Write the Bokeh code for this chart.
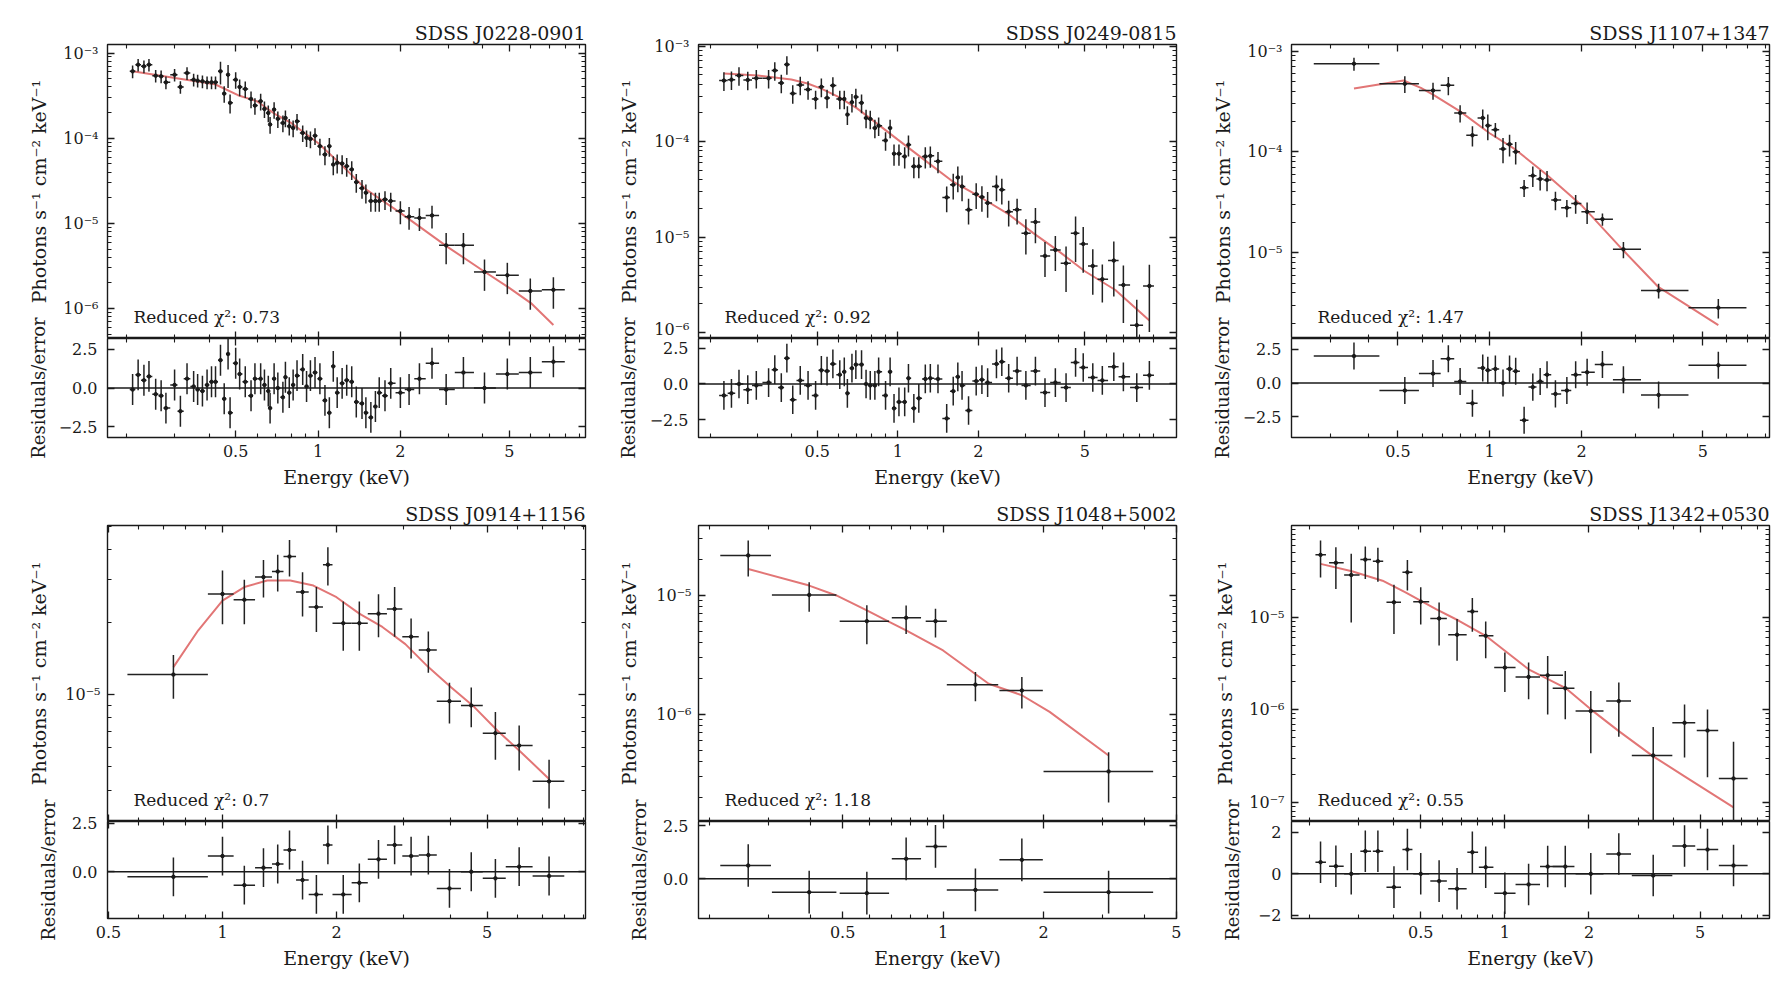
import math
from bokeh.plotting import figure
from bokeh.models import (LogAxis, LinearAxis, FixedTicker, CustomJSTickFormatter,
                          Range1d, Label, Span, Spacer)
from bokeh.layouts import row, column
from bokeh.embed import file_html
from bokeh.resources import INLINE

FONT = "DejaVu Serif"
INK = "#1a1a1a"
BAR = "#222222"
MODEL_COLOR = "#e27676"

TITLES = ["SDSS J0228-0901", "SDSS J0249-0815", "SDSS J1107+1347",
          "SDSS J0914+1156", "SDSS J1048+5002", "SDSS J1342+0530"]
CHI2 = ["0.73", "0.92", "1.47", "0.7", "1.18", "0.55"]
Y_LABEL = "Photons s\u207b\u00b9 cm\u207b\u00b2 keV\u207b\u00b9"
R_LABEL = "Residuals/error"
X_LABEL = "Energy (keV)"

X_TICKS = [0.5, 1, 2, 5]
X_MINOR = [0.2, 0.3, 0.4, 0.6, 0.7, 0.8, 0.9, 3, 4, 6, 7, 8, 9]

# ---------------- SDSS J0228-0901 ----------------
E_0228 = [0.210, 0.220, 0.231, 0.241, 0.255, 0.267, 0.278, 0.299, 0.314, 0.332,
          0.351, 0.363, 0.378, 0.393, 0.408, 0.422, 0.440, 0.454, 0.469, 0.477,
          0.500, 0.517, 0.542, 0.569, 0.588, 0.617, 0.637, 0.658, 0.668, 0.691,
          0.713, 0.744, 0.760, 0.785, 0.811, 0.838, 0.879, 0.908, 0.938, 0.975,
          1.016, 1.06, 1.10, 1.137, 1.175, 1.225, 1.273, 1.328, 1.380, 1.448,
          1.496, 1.560, 1.621, 1.674, 1.757, 1.844, 2.00, 2.152, 2.348, 2.61,
          2.94, 3.40, 4.06, 4.92, 5.97, 7.25]
F_0228 = [6.10e-4, 7.30e-4, 6.98e-4, 7.30e-4, 5.42e-4, 5.33e-4, 4.53e-4, 5.57e-4, 4.00e-4, 5.83e-4,
          4.87e-4, 4.74e-4, 4.66e-4, 4.53e-4, 4.53e-4, 4.53e-4, 6.10e-4, 3.34e-4, 5.57e-4, 2.60e-4,
          4.87e-4, 4.00e-4, 3.79e-4, 2.89e-4, 2.42e-4, 2.72e-4, 2.21e-4, 1.98e-4, 1.45e-4, 2.17e-4,
          1.69e-4, 1.51e-4, 1.73e-4, 1.38e-4, 1.32e-4, 1.58e-4, 1.155e-4, 1.01e-4, 9.8e-5, 1.07e-4,
          8.06e-5, 6.44e-5, 8.06e-5, 4.91e-5, 5.14e-5, 5.05e-5, 4.70e-5, 4.30e-5, 3.05e-5, 2.59e-5,
          2.29e-5, 1.83e-5, 1.83e-5, 1.83e-5, 1.91e-5, 1.83e-5, 1.40e-5, 1.20e-5, 1.16e-5, 1.24e-5,
          5.52e-6, 5.52e-6, 2.69e-6, 2.46e-6, 1.61e-6, 1.66e-6]
REL_0228 = [0.17, 0.17, 0.17, 0.17, 0.17, 0.17, 0.17, 0.17, 0.17, 0.17,
            0.17, 0.17, 0.17, 0.17, 0.17, 0.17, 0.30, 0.22, 0.30, 0.25,
            0.22, 0.22, 0.22, 0.22, 0.22, 0.22, 0.22, 0.22, 0.22, 0.22,
            0.22, 0.22, 0.22, 0.22, 0.22, 0.22, 0.22, 0.22, 0.22, 0.22,
            0.22, 0.25, 0.25, 0.25, 0.25, 0.25, 0.25, 0.25, 0.25, 0.25,
            0.25, 0.25, 0.25, 0.25, 0.25, 0.25, 0.30, 0.30, 0.30, 0.30,
            0.40, 0.40, 0.40, 0.40, 0.40, 0.40]
RES_0228 = [-0.1, 0.85, 0.5, 0.75, -0.4, -0.5, -1.3, 0.2, -1.5, 0.6,
            0.1, -0.1, -0.2, 0.2, 0.4, 0.4, 1.8, -0.7, 2.2, -1.6,
            1.6, 0.9, 0.4, -0.5, 0.6, 0.6, 0.2, -0.2, -1.3, 0.6,
            0.0, -0.6, 0.7, -0.3, 0.2, 0.8, 1.2, 0.1, 0.8, 1.0,
            0.6, -0.8, -1.6, 1.4, -0.3, 0.3, 0.5, 0.4, -0.9, -1.0,
            -1.6, -1.9, -1.2, -0.3, -0.5, 0.3, -0.3, -0.1, 0.6, 1.6,
            -0.1, 1.0, 0.0, 0.9, 1.0, 1.7]
MODEL_E_0228 = [0.21, 0.30, 0.42, 0.51, 0.60, 0.70, 0.80, 1.0, 1.2, 1.5, 2.0, 3.0, 4.0, 5.0, 6.0, 7.25]
MODEL_F_0228 = [6.1e-4, 5.1e-4, 4.3e-4, 3.2e-4, 2.7e-4, 1.9e-4, 1.5e-4, 8.8e-5, 5.1e-5, 2.5e-5,
                1.33e-5, 5.2e-6, 2.8e-6, 1.75e-6, 1.16e-6, 6.4e-7]

# ---------------- SDSS J0249-0815 ----------------
E_0249 = [0.224, 0.239, 0.255, 0.275, 0.296, 0.329, 0.347, 0.367, 0.385, 0.405,
          0.432, 0.462, 0.493, 0.518, 0.544, 0.572, 0.607, 0.631, 0.648, 0.674,
          0.697, 0.732, 0.761, 0.789, 0.821, 0.848, 0.900, 0.936, 0.968, 1.01,
          1.061, 1.096, 1.148, 1.198, 1.267, 1.323, 1.413, 1.523, 1.611, 1.676,
          1.738, 1.838, 1.963, 2.062, 2.166, 2.337, 2.447, 2.596, 2.791, 3.01,
          3.268, 3.548, 3.879, 4.253, 4.616, 4.93, 5.353, 5.811, 6.414, 6.965,
          7.815, 8.71]
F_0249 = [4.36e-4, 4.46e-4, 4.92e-4, 4.43e-4, 4.61e-4, 4.61e-4, 5.56e-4, 4.12e-4, 6.42e-4, 3.19e-4,
          3.93e-4, 3.51e-4, 2.80e-4, 3.75e-4, 2.87e-4, 3.87e-4, 2.80e-4, 2.80e-4, 1.92e-4, 2.59e-4,
          2.94e-4, 2.55e-4, 1.77e-4, 1.73e-4, 1.39e-4, 1.47e-4, 1.03e-4, 1.39e-4, 7.48e-5, 7.48e-5,
          7.0e-5, 9.3e-5, 5.51e-5, 5.51e-5, 7.0e-5, 7.1e-5, 6.22e-5, 2.61e-5, 3.54e-5, 4.22e-5,
          3.40e-5, 1.94e-5, 2.82e-5, 2.63e-5, 2.28e-5, 3.40e-5, 3.14e-5, 1.85e-5, 1.94e-5, 1.10e-5,
          1.44e-5, 6.37e-6, 7.36e-6, 5.33e-6, 1.10e-5, 8.5e-6, 5.0e-6, 3.63e-6, 5.69e-6, 3.16e-6,
          1.2e-6, 3.09e-6]
REL_0249 = [0.22, 0.22, 0.22, 0.22, 0.22, 0.22, 0.22, 0.22, 0.22, 0.22,
            0.22, 0.22, 0.22, 0.22, 0.22, 0.22, 0.22, 0.22, 0.22, 0.22,
            0.22, 0.22, 0.22, 0.22, 0.22, 0.22, 0.22, 0.22, 0.25, 0.25,
            0.25, 0.25, 0.25, 0.25, 0.25, 0.25, 0.25, 0.30, 0.30, 0.30,
            0.30, 0.30, 0.30, 0.30, 0.30, 0.30, 0.30, 0.30, 0.30, 0.40,
            0.40, 0.40, 0.40, 0.50, 0.50, 0.50, 0.50, 0.43, 0.58, 0.60,
            0.85, 0.67]
RES_0249 = [-0.8, -0.65, 0.0, -0.4, -0.1, 0.1, 1.0, -0.25, 1.8, -1.1,
            0.25, -0.1, -0.8, 0.95, 0.9, 1.4, 0.65, 0.85, -0.65, 1.1,
            1.35, 1.35, 0.0, -0.1, -0.1, 0.85, -0.8, 0.85, -1.7, -1.25,
            -1.25, 0.4, -1.7, -1.0, 0.35, 0.4, 0.35, -2.4, -0.5, 0.5,
            -0.1, -1.85, 0.2, 0.3, 0.1, 1.4, 1.55, 0.4, 0.9, -0.1,
            0.9, -0.6, 0.1, -0.25, 1.5, 1.15, 0.45, 0.25, 1.2, 0.5,
            -0.25, 0.6]
MODEL_E_0249 = [0.224, 0.30, 0.40, 0.46, 0.52, 0.60, 0.70, 0.80, 1.0, 1.3, 1.6, 2.0, 2.6, 3.2,
                4.0, 5.0, 6.5, 8.71]
MODEL_F_0249 = [5.17e-4, 4.92e-4, 4.47e-4, 4.06e-4, 3.57e-4, 2.94e-4, 2.26e-4, 1.70e-4, 1.05e-4,
                6.0e-5, 3.85e-5, 2.7e-5, 1.73e-5, 1.11e-5, 7.1e-6, 4.4e-6, 2.8e-6, 1.34e-6]

# ---------------- SDSS J1107+1347 ----------------
E_1107 = [0.359, 0.527, 0.652, 0.732, 0.80, 0.878, 0.949, 0.986, 1.044, 1.106, 1.162, 1.217,
          1.297, 1.385, 1.464, 1.542, 1.643, 1.791, 1.914, 2.087, 2.343, 2.745, 3.58, 5.62]
F_1107 = [7.48e-4, 4.73e-4, 4.06e-4, 4.58e-4, 2.43e-4, 1.46e-4, 2.17e-4, 1.82e-4, 1.66e-4,
          1.07e-4, 1.19e-4, 1.0e-4, 4.41e-5, 5.81e-5, 5.38e-5, 5.26e-5, 3.33e-5, 2.79e-5,
          3.08e-5, 2.54e-5, 2.15e-5, 1.08e-5, 4.22e-6, 2.85e-6]
SIG_1107 = [1.1e-4, 0.9e-4, 0.78e-4, 0.93e-4, 0.47e-4, 0.33e-4, 0.46e-4, 0.52e-4, 0.27e-4,
            0.30e-4, 0.29e-4, 0.25e-4, 0.85e-5, 1.33e-5, 1.24e-5, 1.2e-5, 0.7e-5, 0.54e-5,
            0.65e-5, 0.61e-5, 0.3e-5, 0.2e-5, 0.7e-6, 0.63e-6]
RES_1107 = [2.0, -0.55, 0.7, 1.8, 0.12, -1.5, 1.12, 0.95, 1.05, 0.0, 1.05, 0.88,
            -2.75, -0.3, 0.12, 0.62, -0.8, -0.55, 0.62, 0.8, 1.38, 0.25, -0.88, 1.32]
MODEL_E_1107 = [0.359, 0.522, 0.595, 0.652, 0.80, 1.0, 1.217, 1.542, 2.0, 2.745, 3.58, 5.62]
MODEL_F_1107 = [4.25e-4, 5.1e-4, 4.31e-4, 3.70e-4, 2.52e-4, 1.53e-4, 1.05e-4, 5.9e-5, 2.96e-5,
                1.05e-5, 4.55e-6, 1.91e-6]

# ---------------- SDSS J0914+1156 ----------------
E_0914 = [0.742, 1.0, 1.142, 1.283, 1.399, 1.503, 1.627, 1.77, 1.898, 2.084,
          2.298, 2.582, 2.848, 3.148, 3.496, 3.975, 4.538, 5.256, 6.073, 7.284]
EDGES_0914 = [0.561, 0.915, 1.070, 1.219, 1.351, 1.449, 1.564, 1.689, 1.842, 1.952, 2.193,
              2.419, 2.718, 2.984, 3.298, 3.680, 4.263, 4.867, 5.597, 6.59, 7.99]
F_0914 = [1.21e-5, 2.62e-5, 2.48e-5, 3.08e-5, 3.25e-5, 3.75e-5, 2.67e-5, 2.31e-5, 3.47e-5, 1.98e-5,
          1.98e-5, 2.17e-5, 2.27e-5, 1.74e-5, 1.53e-5, 9.38e-6, 9.0e-6, 6.9e-6, 6.13e-6, 4.35e-6]
SIG_0914 = [2.5e-6, 6.6e-6, 5.2e-6, 5.5e-6, 5.7e-6, 6.5e-6, 5.6e-6, 4.9e-6, 6.3e-6, 4.6e-6,
            4.6e-6, 4.4e-6, 5.3e-6, 3.3e-6, 3.0e-6, 1.8e-6, 1.7e-6, 1.55e-6, 1.3e-6, 1.0e-6]
RES_0914 = [-0.26, 0.81, -0.69, 0.21, 0.4, 1.12, -0.43, -1.17, 1.38, -1.17,
            -0.57, 0.64, 1.38, 0.81, 0.86, -0.86, 0.0, -0.34, 0.26, -0.22]
MODEL_E_0914 = [0.742, 0.863, 1.0, 1.142, 1.313, 1.51, 1.738, 2.0, 2.298, 2.643, 3.04, 3.496,
                4.02, 4.624, 5.317, 6.073, 7.284]
MODEL_F_0914 = [1.30e-5, 1.85e-5, 2.46e-5, 2.80e-5, 2.98e-5, 2.98e-5, 2.84e-5, 2.54e-5, 2.17e-5,
                1.91e-5, 1.62e-5, 1.30e-5, 1.07e-5, 8.86e-6, 7.08e-6, 5.85e-6, 4.45e-6]

# ---------------- SDSS J1048+5002 ----------------
E_1048 = [0.2607, 0.397, 0.591, 0.775, 0.949, 1.25, 1.722, 3.133]
LO_1048 = [0.215, 0.307, 0.49, 0.702, 0.887, 1.026, 1.475, 2.0]
HI_1048 = [0.305, 0.479, 0.689, 0.859, 1.026, 1.463, 1.99, 4.26]
F_1048 = [2.17e-5, 1.01e-5, 6.08e-6, 6.49e-6, 6.08e-6, 1.78e-6, 1.59e-6, 3.32e-7]
SIG_1048 = [7.3e-6, 2.8e-6, 2.2e-6, 1.75e-6, 1.65e-6, 0.49e-6, 0.47e-6, 1.5e-7]
RES_1048 = [0.625, -0.625, -0.67, 0.94, 1.52, -0.52, 0.89, -0.625]
MODEL_E_1048 = [0.2607, 0.397, 0.479, 0.591, 0.692, 0.775, 1.0, 1.37, 1.722, 2.086, 3.133]
MODEL_F_1048 = [1.67e-5, 1.21e-5, 1.0e-5, 7.48e-6, 5.97e-6, 5.08e-6, 3.45e-6, 1.81e-6, 1.45e-6,
                1.05e-6, 4.52e-7]

# ---------------- SDSS J1342+0530 ----------------
E_1342 = [0.219, 0.2485, 0.282, 0.3167, 0.3513, 0.401, 0.448, 0.50, 0.5817, 0.6745, 0.765,
          0.854, 1.0, 1.216, 1.423, 1.645, 2.03, 2.557, 3.395, 4.395, 5.31, 6.58]
LO_1342 = [0.21, 0.235, 0.266, 0.304, 0.337, 0.377, 0.43, 0.47, 0.541, 0.627, 0.734,
           0.807, 0.916, 1.092, 1.336, 1.483, 1.791, 2.305, 2.846, 3.974, 4.86, 5.83]
HI_1342 = [0.229, 0.265, 0.302, 0.332, 0.367, 0.425, 0.467, 0.536, 0.62, 0.73, 0.802,
           0.91, 1.092, 1.336, 1.614, 1.774, 2.254, 2.828, 3.974, 4.8, 5.8, 7.39]
F_1342 = [4.76e-5, 3.90e-5, 2.88e-5, 4.23e-5, 4.06e-5, 1.46e-5, 3.08e-5, 1.48e-5, 9.75e-6, 6.49e-6,
          1.16e-5, 6.32e-6, 2.86e-6, 2.27e-6, 2.36e-6, 1.71e-6, 9.67e-7, 1.24e-6, 3.2e-7, 7.23e-7,
          5.96e-7, 1.80e-7]
SIG_1342 = [2.05e-5, 1.87e-5, 2.0e-5, 1.63e-5, 1.62e-5, 0.80e-5, 1.12e-5, 0.64e-5, 4.8e-6, 3.1e-6,
            4.6e-6, 2.7e-6, 1.3e-6, 0.97e-6, 1.47e-6, 0.92e-6, 6.3e-7, 7.3e-7, 3.3e-7, 4.2e-7,
            4.1e-7, 2.7e-7]
RES_1342 = [0.56, 0.37, 0.0, 1.09, 1.09, -0.64, 1.17, 0.0, -0.35, -0.72, 1.04,
            0.32, -0.93, -0.51, 0.35, 0.35, 0.0, 0.96, -0.08, 1.34, 1.17, 0.4]
MODEL_E_1342 = [0.219, 0.2836, 0.365, 0.441, 0.567, 0.685, 0.854, 1.216, 1.645, 2.03, 2.557,
                3.395, 4.395, 6.58]
MODEL_F_1342 = [3.80e-5, 3.16e-5, 2.50e-5, 1.87e-5, 1.23e-5, 9.2e-6, 6.32e-6, 2.74e-6, 1.73e-6,
                1.01e-6, 5.87e-7, 3.13e-7, 1.90e-7, 8.75e-8]


def geo_bins(E, first_lo, last_hi):
    mids = [math.sqrt(a * b) for a, b in zip(E[:-1], E[1:])]
    return [first_lo] + mids, mids + [last_hi]


lo1, hi1 = geo_bins(E_0228, 0.205, 7.98)
lo2, hi2 = geo_bins(E_0249, 0.215, 9.06)
lo3, hi3 = geo_bins(E_1107, 0.265, 6.95)

# edge=True: the residual panel's top tick label sits on the divider line
PANELS = [
    dict(E=E_0228, F=F_0228, S=[r * f for r, f in zip(REL_0228, F_0228)], R=RES_0228,
         lo=lo1, hi=hi1, mE=MODEL_E_0228, mF=MODEL_F_0228,
         xr=(0.17, 9.5), yr=(4.45e-7, 1.26e-3), yt=[1e-6, 1e-5, 1e-4, 1e-3],
         rr=(-3.2, 3.2), rt=[-2.5, 0, 2.5], rd=1, edge=False),
    dict(E=E_0249, F=F_0249, S=[r * f for r, f in zip(REL_0249, F_0249)], R=RES_0249,
         lo=lo2, hi=hi2, mE=MODEL_E_0249, mF=MODEL_F_0249,
         xr=(0.18, 11.0), yr=(8.7e-7, 1.04e-3), yt=[1e-6, 1e-5, 1e-4, 1e-3],
         rr=(-3.73, 3.17), rt=[-2.5, 0, 2.5], rd=1, edge=False),
    dict(E=E_1107, F=F_1107, S=SIG_1107, R=RES_1107,
         lo=lo3, hi=hi3, mE=MODEL_E_1107, mF=MODEL_F_1107,
         xr=(0.224, 8.27), yr=(1.41e-6, 1.16e-3), yt=[1e-5, 1e-4, 1e-3],
         rr=(-4.03, 3.3), rt=[-2.5, 0, 2.5], rd=1, edge=False),
    dict(E=E_0914, F=F_0914, S=SIG_0914, R=RES_0914,
         lo=EDGES_0914[:-1], hi=EDGES_0914[1:], mE=MODEL_E_0914, mF=MODEL_F_0914,
         xr=(0.497, 9.09), yr=(2.96e-6, 5.05e-5), yt=[1e-5],
         rr=(-2.41, 2.59), rt=[0, 2.5], rd=1, edge=True),
    dict(E=E_1048, F=F_1048, S=SIG_1048, R=RES_1048,
         lo=LO_1048, hi=HI_1048, mE=MODEL_E_1048, mF=MODEL_F_1048,
         xr=(0.185, 5.005), yr=(1.26e-7, 3.87e-5), yt=[1e-6, 1e-5],
         rr=(-1.86, 2.69), rt=[0, 2.5], rd=1, edge=True),
    dict(E=E_1342, F=F_1342, S=SIG_1342, R=RES_1342,
         lo=LO_1342, hi=HI_1342, mE=MODEL_E_1342, mF=MODEL_F_1342,
         xr=(0.1724, 8.85), yr=(6.16e-8, 9.9e-5), yt=[1e-7, 1e-6, 1e-5],
         rr=(-2.15, 2.52), rt=[-2, 0, 2], rd=0, edge=False),
]

Y_MINOR = [k * 10.0 ** n for n in range(-9, -2) for k in range(2, 10)]

# ---------------- layout (page pixels) ----------------
FW = 478
TOP_SPACE = 16
EDGE_PAD = 10                     # transparent band letting a tick label overlap the divider
COL_START = [0, 605, 1196]
FRAME_LEFT = [107, 698, 1291]
COL_R = [20, 20, 12]
AXIS_W = [52, 48]                 # room for tick labels, per row
Y_STANDOFF = [9, 7]
ROW_MAIN_TOP = [28, 28]
ROW_MAIN_H = [294, 296]
ROW_RES_H = [99, 97]
ROW_RES_BOTTOM = [60, 55]
# centres of the rotated y labels (page x): (photons, residuals)
YLAB_X = [[(38, 38), (628, 628), (1222, 1222)],
          [(38, 54), (628, 644), (1224, 1240)]]

SUP_JS = """
const m = {"-": "\u207b", "0": "\u2070", "1": "\u00b9", "2": "\u00b2", "3": "\u00b3",
           "4": "\u2074", "5": "\u2075", "6": "\u2076", "7": "\u2077", "8": "\u2078", "9": "\u2079"};
const e = Math.round(Math.log10(tick));
return "10" + String(e).split("").map(c => m[c]).join("");
"""


def blank():
    return CustomJSTickFormatter(code='return "";')


def res_fmt(digits):
    return CustomJSTickFormatter(code=(
        'const v = Math.abs(tick) < 1e-9 ? 0 : tick; '
        'return v.toFixed(%d).replace("-", "\u2212");' % digits))


def style(ax, show, standoff=8, size="16px"):
    ax.major_tick_in = 7
    ax.major_tick_out = 0
    ax.minor_tick_in = 4
    ax.minor_tick_out = 0
    ax.major_tick_line_color = INK
    ax.minor_tick_line_color = INK
    ax.major_tick_line_width = 1.3
    ax.minor_tick_line_width = 1.1
    ax.axis_line_color = None
    ax.major_label_text_font = FONT
    ax.major_label_text_color = INK
    ax.axis_label_text_font = FONT
    ax.axis_label_text_font_style = "normal"
    ax.axis_label_text_font_size = "19px"
    ax.axis_label_text_color = INK
    if show:
        ax.major_label_text_font_size = size
        ax.major_label_standoff = standoff
    else:
        ax.major_label_text_font_size = "0px"
        ax.major_label_standoff = 0
        ax.formatter = blank()


def base_fig(xr, yr, ylog, fh, left, right, top, bottom):
    p = figure(x_axis_type="log", y_axis_type="log" if ylog else "linear",
               x_range=xr, y_range=yr, frame_width=FW, frame_height=fh,
               min_border_left=left, min_border_right=right,
               min_border_top=top, min_border_bottom=bottom,
               toolbar_location=None, output_backend="svg",
               background_fill_color="white", border_fill_color="white")
    p.xgrid.visible = False
    p.ygrid.visible = False
    p.outline_line_color = INK
    p.outline_line_width = 1.4
    return p


def build(i):
    d = PANELS[i]
    rowi, col = divmod(i, 3)
    xr = Range1d(*d["xr"])
    left = AXIS_W[rowi]
    right = COL_R[col]

    # ---- spectrum ----
    m = base_fig(xr, Range1d(*d["yr"]), True, ROW_MAIN_H[rowi], left, right, ROW_MAIN_TOP[rowi], 0)
    m.xaxis.ticker = FixedTicker(ticks=X_TICKS, minor_ticks=X_MINOR)
    style(m.xaxis[0], False)
    m.yaxis.ticker = FixedTicker(ticks=d["yt"], minor_ticks=Y_MINOR)
    style(m.yaxis[0], True, standoff=Y_STANDOFF[rowi], size="16px")
    m.yaxis[0].formatter = CustomJSTickFormatter(code=SUP_JS)
    top = LogAxis(ticker=FixedTicker(ticks=X_TICKS, minor_ticks=X_MINOR))
    style(top, False)
    m.add_layout(top, "above")
    rgt = LogAxis(ticker=FixedTicker(ticks=d["yt"], minor_ticks=Y_MINOR))
    style(rgt, False)
    m.add_layout(rgt, "right")

    m.title.text = TITLES[i]
    m.title.align = "right"
    m.title.text_font = FONT
    m.title.text_font_size = "19px"
    m.title.text_font_style = "normal"
    m.title.text_color = INK
    m.title.standoff = 2

    floor = d["yr"][0] * 0.1
    E, F, S = d["E"], d["F"], d["S"]
    m.line(d["mE"], d["mF"], line_color=MODEL_COLOR, line_width=2.0)
    m.segment(x0=d["lo"], y0=F, x1=d["hi"], y1=F, line_color=BAR, line_width=1.5)
    m.segment(x0=E, y0=[max(f - s, floor) for f, s in zip(F, S)], x1=E,
              y1=[f + s for f, s in zip(F, S)], line_color=BAR, line_width=1.5)
    m.scatter(E, F, size=3.5, color=INK)
    m.add_layout(Label(x=26, y=12, x_units="screen", y_units="screen",
                       text="Reduced \u03c7\u00b2: " + CHI2[i], text_font=FONT,
                       text_font_size="17px", text_color=INK))

    # ---- residuals ----
    pad = EDGE_PAD if d["edge"] else 0
    r = base_fig(xr, Range1d(*d["rr"]), False, ROW_RES_H[rowi], left, right, pad,
                 ROW_RES_BOTTOM[rowi])
    if pad:
        # the band above the frame overlaps the spectrum panel and stays see-through
        r.border_fill_alpha = 0
        r.margin = (-pad, 0, 0, 0)
    r.xaxis.ticker = FixedTicker(ticks=X_TICKS, minor_ticks=X_MINOR)
    style(r.xaxis[0], True, standoff=7)
    r.xaxis[0].formatter = CustomJSTickFormatter(code="return String(tick);")
    r.xaxis[0].axis_label = X_LABEL
    r.xaxis[0].axis_label_standoff = 6
    r.yaxis.ticker = FixedTicker(ticks=d["rt"])
    style(r.yaxis[0], True, standoff=10)
    r.yaxis[0].formatter = res_fmt(d["rd"])
    rtop = LogAxis(ticker=FixedTicker(ticks=X_TICKS, minor_ticks=X_MINOR))
    style(rtop, False)
    r.add_layout(rtop, "above")
    rright = LinearAxis(ticker=FixedTicker(ticks=d["rt"]))
    style(rright, False)
    r.add_layout(rright, "right")

    r.add_layout(Span(location=0, dimension="width", line_color=INK, line_width=1.5))
    R = d["R"]
    r.segment(x0=d["lo"], y0=R, x1=d["hi"], y1=R, line_color=BAR, line_width=1.5)
    r.segment(x0=E, y0=[v - 1 for v in R], x1=E, y1=[v + 1 for v in R],
              line_color=BAR, line_width=1.5)
    r.scatter(E, R, size=3.5, color=INK)

    # ---- strip holding the two rotated y-axis labels ----
    sw = FRAME_LEFT[col] - left - COL_START[col]
    h_main = ROW_MAIN_TOP[rowi] + ROW_MAIN_H[rowi]
    sh = h_main + ROW_RES_H[rowi] + ROW_RES_BOTTOM[rowi]
    s = figure(x_range=Range1d(0, sw), y_range=Range1d(0, sh), frame_width=sw, frame_height=sh,
               min_border_left=0, min_border_right=0, min_border_top=0, min_border_bottom=0,
               x_axis_location=None, y_axis_location=None, toolbar_location=None,
               output_backend="svg", outline_line_color=None,
               background_fill_color="white", border_fill_color="white")
    s.xgrid.visible = False
    s.ygrid.visible = False
    px, rx = YLAB_X[rowi][col]
    px = min(px - COL_START[col], sw - 11)
    rx = min(rx - COL_START[col], sw - 11)
    y_main = sh - (ROW_MAIN_TOP[rowi] + ROW_MAIN_H[rowi] / 2)
    y_res = sh - (h_main + ROW_RES_H[rowi] / 2)
    s.add_layout(Label(x=px, y=y_main, text=Y_LABEL, angle=math.pi / 2, text_align="center",
                       text_baseline="middle", text_font=FONT, text_font_size="19px",
                       text_color=INK))
    s.add_layout(Label(x=rx, y=y_res, text=R_LABEL, angle=math.pi / 2, text_align="center",
                       text_baseline="middle", text_font=FONT, text_font_size="18px",
                       text_color=INK))
    return row(s, column(m, r))


layout = column(Spacer(width=10, height=TOP_SPACE),
                row(build(0), build(1), build(2)),
                row(build(3), build(4), build(5)))

with open("out.html", "w", encoding="utf-8") as fh:
    fh.write(file_html(layout, INLINE))
